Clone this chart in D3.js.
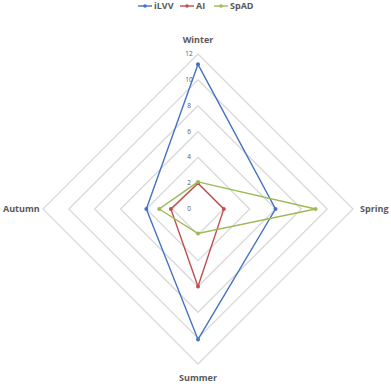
<!DOCTYPE html>
<html>
<head>
<meta charset="utf-8">
<script src="https://d3js.org/d3.v7.min.js"></script>
<style>
  body { margin: 0; background: #fff; }
  text { font-family: "Open Sans", "Liberation Sans", sans-serif; }
</style>
</head>
<body>
<div id="chart"></div>
<script>
const seasons = ["Winter", "Spring", "Summer", "Autumn"];
const seriesNames = ["iLVV", "AI", "SpAD"];
const iLVV = [11.2, 6.0, 10.1, 4.0];
const AI = [2.0, 2.0, 6.0, 2.1];
const SpAD = [2.1, 9.1, 1.9, 3.0];
const ticks = [0, 2, 4, 6, 8, 10, 12];
const colors = ["#4472C4", "#C0504D", "#9BBB59"];

const W = 391, H = 386;
const cx = 198, cy = 209, R = 155;

const svg = d3.select("#chart").append("svg")
  .attr("width", W).attr("height", H);

const r = d3.scaleLinear().domain([0, 12]).range([0, R]);
const angle = d3.scalePoint().domain(seasons).range([0, 2 * Math.PI * 3 / 4]);

function pt(season, v) {
  const a = angle(season);
  return [cx + r(v) * Math.sin(a), cy - r(v) * Math.cos(a)];
}

// grid rings
const line = d3.line();
ticks.filter(t => t > 0).forEach(t => {
  const pts = seasons.map(s => pt(s, t));
  svg.append("path")
    .attr("d", line(pts) + "Z")
    .attr("fill", "none")
    .attr("stroke", "#d9d9d9")
    .attr("stroke-width", 1.3);
});

// tick labels
svg.selectAll(".tick").data(ticks).enter().append("text")
  .attr("x", cx - 9)
  .attr("y", d => cy - r(d) + 2)
  .attr("text-anchor", "middle")
  .attr("font-size", 6.5)
  .attr("fill", "#595959")
  .text(d => d);

// category labels
const labelPos = {
  Winter: [cx, 43, "middle"],
  Spring: [360, 212, "start"],
  Summer: [cx, 381, "middle"],
  Autumn: [3, 212, "start"]
};
seasons.forEach(s => {
  const p = labelPos[s];
  svg.append("text")
    .attr("x", p[0]).attr("y", p[1])
    .attr("text-anchor", p[2])
    .attr("font-size", 9)
    .attr("font-weight", "bold")
    .attr("fill", "#595959")
    .text(s);
});

// series
const data = [iLVV, AI, SpAD];
data.forEach((vals, i) => {
  const pts = seasons.map((s, j) => pt(s, vals[j]));
  svg.append("path")
    .attr("d", line(pts) + "Z")
    .attr("fill", "none")
    .attr("stroke", colors[i])
    .attr("stroke-width", 1.4);
  svg.selectAll(".m" + i).data(pts).enter().append("circle")
    .attr("cx", d => d[0]).attr("cy", d => d[1])
    .attr("r", 2)
    .attr("fill", colors[i]);
});

// legend
const legendX = [138, 180, 214];
seriesNames.forEach((n, i) => {
  const g = svg.append("g").attr("transform", `translate(${legendX[i]},6)`);
  g.append("line").attr("x1", 0).attr("x2", 14).attr("y1", 0).attr("y2", 0)
    .attr("stroke", colors[i]).attr("stroke-width", 1.4);
  g.append("circle").attr("cx", 7).attr("cy", 0).attr("r", 1.8).attr("fill", colors[i]);
  g.append("text").attr("x", 16).attr("y", 3)
    .attr("font-size", 9).attr("font-weight", "bold").attr("fill", "#595959")
    .text(n);
});
</script>
</body>
</html>
